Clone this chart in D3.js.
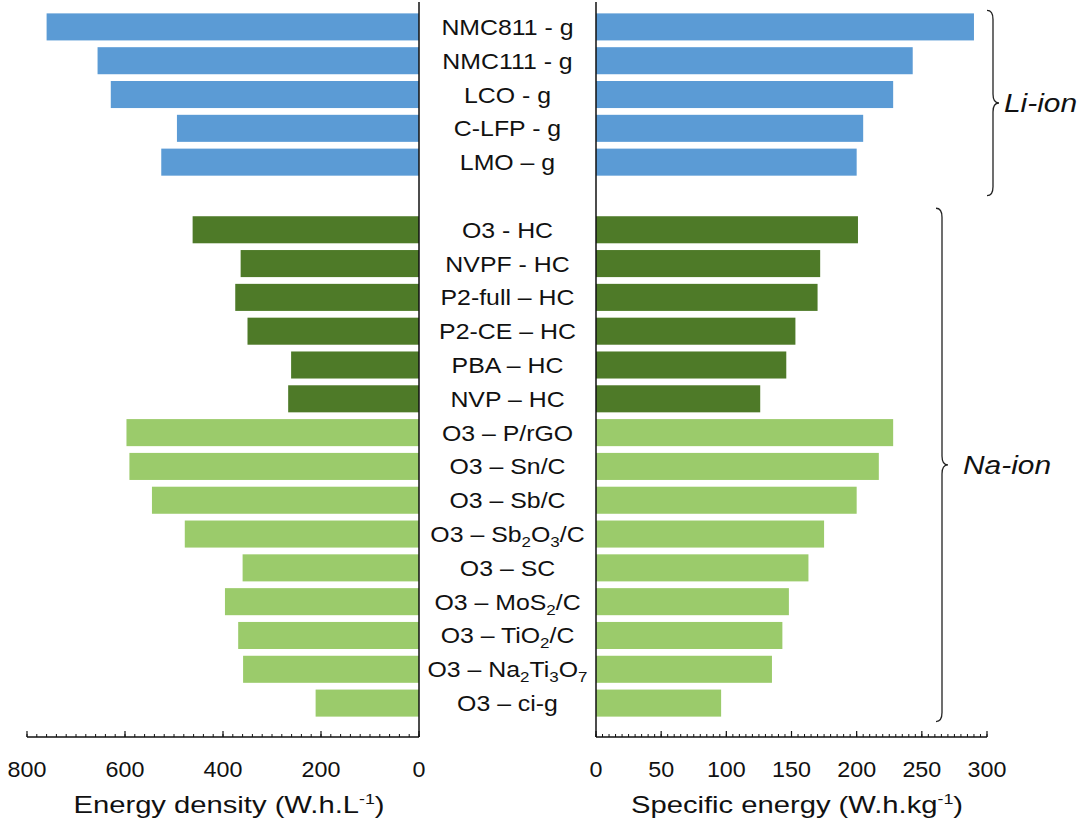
<!DOCTYPE html>
<html>
<head>
<meta charset="utf-8">
<script src="https://cdn.jsdelivr.net/npm/d3@7/dist/d3.min.js"></script>
<style>
body{margin:0;background:#fff}
svg text{font-family:"Liberation Sans",Arial,sans-serif;fill:#111}
</style>
</head>
<body>
<svg></svg>
<script>
// chart values
var labels = ["NMC811 - g","NMC111 - g","LCO - g","C-LFP - g","LMO \u2013 g",
  "O3 - HC","NVPF - HC","P2-full \u2013 HC","P2-CE \u2013 HC","PBA \u2013 HC","NVP \u2013 HC",
  "O3 \u2013 P/rGO","O3 \u2013 Sn/C","O3 \u2013 Sb/C","O3 \u2013 Sb_2O_3/C","O3 \u2013 SC",
  "O3 \u2013 MoS_2/C","O3 \u2013 TiO_2/C","O3 \u2013 Na_2Ti_3O_7","O3 \u2013 ci-g"]
var kind = ["li","li","li","li","li","hc","hc","hc","hc","hc","hc",
  "na","na","na","na","na","na","na","na","na"]
var energyDensity = [760,656,629,494,526,462,364,375,350,261,267,597,591,545,478,360,396,369,359,211]
var specificEnergy = [290,243,228,205,200,201,172,170,153,146,126,228,217,200,175,163,148,143,135,96]
var leftTicks = [800,600,400,200,0]
var rightTicks = [0,50,100,150,200,250,300]

var screen = {width:1091,height:823}
var colors = {li:"#5B9BD5", hc:"#4E7A28", na:"#9BCB6B"}

var svg = d3.select("svg")
  .attr("width",screen.width)
  .attr("height",screen.height)

// text in the picture is a bit wide, so stretch it sideways
var place = function(sel, x, y, sx){
  return sel.attr("transform",function(d,i){
    var xx = typeof x=="function" ? x(d,i) : x
    var yy = typeof y=="function" ? y(d,i) : y
    return "translate("+xx+","+yy+") scale("+sx+",1)"
  })
}

// one empty slot between Li-ion and Na-ion rows
var slots = labels.slice(0,5).concat(["gap"]).concat(labels.slice(5))
var yScale = d3.scaleBand()
  .domain(slots)
  .range([10,720])
  .paddingInner(0.2)
  .paddingOuter(0.1)

var xLeft = d3.scaleLinear().domain([0,800]).range([419,27])
var xRight = d3.scaleLinear().domain([0,300]).range([596,987])
var axisY = 737

var rows = labels.map(function(d,i){
  return {label:d, kind:kind[i], ed:energyDensity[i], se:specificEnergy[i]}
})

svg.selectAll(".barL")
  .data(rows)
  .enter()
  .append("rect")
  .attr("x",function(d){return xLeft(d.ed)})
  .attr("y",function(d){return yScale(d.label)})
  .attr("width",function(d){return xLeft(0)-xLeft(d.ed)})
  .attr("height",yScale.bandwidth())
  .attr("fill",function(d){return colors[d.kind]})

svg.selectAll(".barR")
  .data(rows)
  .enter()
  .append("rect")
  .attr("x",xRight(0))
  .attr("y",function(d){return yScale(d.label)})
  .attr("width",function(d){return xRight(d.se)-xRight(0)})
  .attr("height",yScale.bandwidth())
  .attr("fill",function(d){return colors[d.kind]})

// category labels with subscripts written as _n
var lab = svg.selectAll(".lab")
  .data(rows)
  .enter()
  .append("text")
  .attr("text-anchor","middle")
  .style("font-size","22px")
place(lab, (xLeft(0)+xRight(0))/2, function(d){return yScale(d.label)+yScale.bandwidth()/2+8}, 1.13)
lab.each(function(d){
  var t = d3.select(this)
  var back = 0
  d.label.split(/(_\d)/).forEach(function(p){
    if(p=="") return
    if(p[0]=="_"){
      t.append("tspan").attr("dy",5-back).style("font-size","15px").text(p[1])
      back = 5
    } else {
      t.append("tspan").attr("dy",-back).text(p)
      back = 0
    }
  })
})

// center vertical lines
svg.selectAll(".vline")
  .data([xLeft(0),xRight(0)])
  .enter()
  .append("line")
  .attr("x1",function(d){return d}).attr("x2",function(d){return d})
  .attr("y1",2).attr("y2",axisY)
  .attr("stroke","#111").attr("stroke-width",1.5)

// bottom axes, ticks pointing up
var drawAxis = function(scale, major, minorStep, label, titleX){
  var g = svg.append("g")
  var dom = scale.domain()
  g.append("line")
    .attr("x1",scale(dom[0])).attr("x2",scale(dom[1]))
    .attr("y1",axisY).attr("y2",axisY)
    .attr("stroke","#111").attr("stroke-width",1.5)
  g.selectAll(".minor")
    .data(d3.range(dom[0],dom[1]+minorStep/2,minorStep))
    .enter()
    .append("line")
    .attr("x1",function(d){return scale(d)}).attr("x2",function(d){return scale(d)})
    .attr("y1",axisY).attr("y2",axisY-3)
    .attr("stroke","#111").attr("stroke-width",1)
  g.selectAll(".major")
    .data(major)
    .enter()
    .append("line")
    .attr("x1",function(d){return scale(d)}).attr("x2",function(d){return scale(d)})
    .attr("y1",axisY).attr("y2",axisY-6)
    .attr("stroke","#111").attr("stroke-width",1.2)
  var tl = g.selectAll(".tl")
    .data(major)
    .enter()
    .append("text")
    .attr("text-anchor","middle")
    .style("font-size","22px")
    .text(function(d){return d})
  place(tl, function(d){return scale(d)}, axisY+40, 1.06)
  var t = g.append("text")
    .attr("text-anchor","middle")
    .style("font-size","23px")
  place(t, titleX, axisY+76, 1.27)
  t.append("tspan").text(label)
  t.append("tspan").attr("dy",-9).style("font-size","14px").text("-1")
  t.append("tspan").attr("dy",9).text(")")
}
drawAxis(xLeft, leftTicks, 20, "Energy density (W.h.L", 229)
drawAxis(xRight, rightTicks, 5, "Specific energy (W.h.kg", 797)

// group braces
var brace = function(x, y0, y1, w){
  var m = (y0+y1)/2, r = 9
  var p = d3.path()
  p.moveTo(x-w, y0)
  p.quadraticCurveTo(x, y0, x, y0+r)
  p.lineTo(x, m-r)
  p.quadraticCurveTo(x, m, x+w, m)
  p.quadraticCurveTo(x, m, x, m+r)
  p.lineTo(x, y1-r)
  p.quadraticCurveTo(x, y1, x-w, y1)
  return p.toString()
}
var groups = [
  {name:"Li-ion", first:labels[0], last:labels[4], x:993, tx:1004, top:-3, bot:20},
  {name:"Na-ion", first:labels[5], last:labels[19], x:942, tx:963, top:-8, bot:5}
]
groups.forEach(function(g){
  var y0 = yScale(g.first)+g.top
  var y1 = yScale(g.last)+yScale.bandwidth()+g.bot
  svg.append("path")
    .attr("d",brace(g.x,y0,y1,6))
    .attr("fill","none").attr("stroke","#222").attr("stroke-width",1.3)
  var t = svg.append("text")
    .style("font-size","26px").style("font-style","italic")
    .text(g.name)
  place(t, g.tx, (y0+y1)/2+9, 1.15)
})
</script>
</body>
</html>
